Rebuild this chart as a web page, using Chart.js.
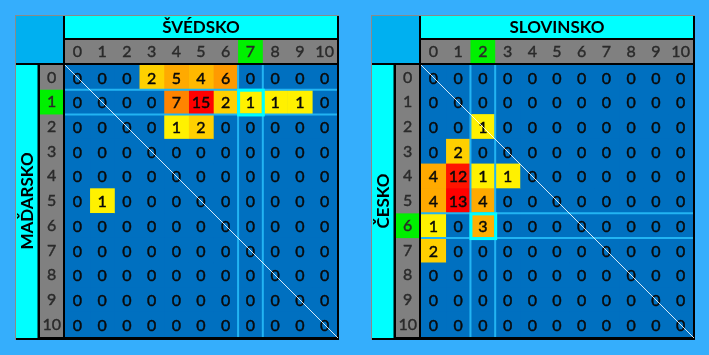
<!DOCTYPE html>
<html>
<head>
<meta charset="utf-8">
<script src="https://cdn.jsdelivr.net/npm/chart.js@4/dist/chart.umd.min.js"></script>
<style>
  html, body { margin: 0; padding: 0; background: #35AEFC; width: 709px; height: 355px; overflow: hidden; }
  .wrap { position: absolute; top: 0; }
  canvas { display: block; }
</style>
</head>
<body>
<div class="wrap" style="left:0px"><canvas id="c1" width="356" height="355"></canvas></div>
<div class="wrap" style="left:356px"><canvas id="c2" width="353" height="355"></canvas></div>
<script>
// ---------- DATA ----------
const goalLabels = ['0','1','2','3','4','5','6','7','8','9','10'];

// Left panel: rows = MAĎARSKO goals, columns = ŠVÉDSKO goals
const leftRowTitle = 'MAĎARSKO';
const leftColTitle = 'ŠVÉDSKO';
const leftCounts = [
  [0,0,0,2,5,4,6,0,0,0,0],
  [0,0,0,0,7,15,2,1,1,1,0],
  [0,0,0,0,1,2,0,0,0,0,0],
  [0,0,0,0,0,0,0,0,0,0,0],
  [0,0,0,0,0,0,0,0,0,0,0],
  [0,1,0,0,0,0,0,0,0,0,0],
  [0,0,0,0,0,0,0,0,0,0,0],
  [0,0,0,0,0,0,0,0,0,0,0],
  [0,0,0,0,0,0,0,0,0,0,0],
  [0,0,0,0,0,0,0,0,0,0,0],
  [0,0,0,0,0,0,0,0,0,0,0]
];
const leftActualRow = 1;
const leftActualCol = 7;

// Right panel: rows = ČESKO goals, columns = SLOVINSKO goals
const rightRowTitle = 'ČESKO';
const rightColTitle = 'SLOVINSKO';
const rightCounts = [
  [0,0,0,0,0,0,0,0,0,0,0],
  [0,0,0,0,0,0,0,0,0,0,0],
  [0,0,1,0,0,0,0,0,0,0,0],
  [0,2,0,0,0,0,0,0,0,0,0],
  [4,12,1,1,0,0,0,0,0,0,0],
  [4,13,4,0,0,0,0,0,0,0,0],
  [1,0,3,0,0,0,0,0,0,0,0],
  [2,0,0,0,0,0,0,0,0,0,0],
  [0,0,0,0,0,0,0,0,0,0,0],
  [0,0,0,0,0,0,0,0,0,0,0],
  [0,0,0,0,0,0,0,0,0,0,0]
];
const rightActualRow = 6;
const rightActualCol = 2;

// ---------- STYLE ----------
const leftHeat  = {1:'#FFF100', 2:'#FFD000', 4:'#FFB900', 5:'#FFAA00', 6:'#FF9A00', 7:'#FF8400', 15:'#FF0000'};
const rightHeat = {1:'#FFF100', 2:'#FFD000', 3:'#FFB000', 4:'#FFAA00', 12:'#FF1400', 13:'#FF0000'};
const GRID_BLUE = '#0070C0';

function makeChart(canvasId, counts, heat, rowTitle, colTitle, actualRow, actualCol) {
  const canvas = document.getElementById(canvasId);
  const W = canvas.width;

  const datasets = goalLabels.map((_, c) => ({
    data: goalLabels.map(() => 1),
    backgroundColor: goalLabels.map((_, r) => counts[r][c] > 0 ? heat[counts[r][c]] : GRID_BLUE),
    borderWidth: 0
  }));

  const tablePlugin = {
    id: 'table_' + canvasId,
    beforeDraw(chart) {
      const ctx = chart.ctx;
      const a = chart.chartArea;
      const xs = chart.scales.x, ys = chart.scales.y;
      const band = (a.bottom - a.top) / goalLabels.length;
      ctx.save();
      // frame
      ctx.fillStyle = '#000';
      ctx.fillRect(ys.left - 1, xs.top - 1, a.right + 2 - (ys.left - 1), a.bottom + 3 - (xs.top - 1));
      ctx.fillStyle = '#8a8a8a';
      ctx.fillRect(ys.left - 1, xs.top - 1, a.right + 2 - (ys.left - 1), 1);
      ctx.fillRect(ys.left - 1, xs.top - 1, 1, a.bottom + 3 - (xs.top - 1));
      // corner block
      ctx.fillStyle = '#00B0F0';
      ctx.fillRect(ys.left, xs.top, a.left - 2 - ys.left, a.top - 2 - xs.top);
      // title bars
      ctx.fillStyle = '#00FFFF';
      ctx.fillRect(a.left, xs.top, a.right - a.left, 22);
      ctx.fillRect(ys.left, a.top, 21.5, a.bottom + 1 - a.top);
      // header bands
      ctx.fillStyle = '#808080';
      ctx.fillRect(a.left, xs.top + 24, a.right - a.left, a.top - 2 - (xs.top + 24));
      ctx.fillRect(ys.left + 24, a.top, a.left - 2 - (ys.left + 24), a.bottom - a.top);
      // highlighted headers
      ctx.fillStyle = '#00F000';
      const hx0 = xs.getPixelForValue(actualCol), hx1 = xs.getPixelForValue(actualCol + 1);
      ctx.fillRect(hx0, xs.top + 24, hx1 - hx0, a.top - 2 - (xs.top + 24));
      const hyc = ys.getPixelForValue(actualRow);
      ctx.fillRect(ys.left + 24, hyc - band / 2, a.left - 2 - (ys.left + 24), band);
      // grid background
      ctx.fillStyle = GRID_BLUE;
      ctx.fillRect(a.left, a.top, a.right - a.left, a.bottom - a.top);
      ctx.restore();
    },
    afterDatasetsDraw(chart) {
      const ctx = chart.ctx;
      const a = chart.chartArea;
      const xs = chart.scales.x, ys = chart.scales.y;
      const band = (a.bottom - a.top) / goalLabels.length;
      ctx.save();
      // highlight lines
      ctx.strokeStyle = '#22B4F2';
      ctx.lineWidth = 2;
      const hx0 = xs.getPixelForValue(actualCol), hx1 = xs.getPixelForValue(actualCol + 1);
      const hyc = ys.getPixelForValue(actualRow);
      const hy0 = hyc - band / 2, hy1 = hyc + band / 2;
      ctx.beginPath();
      ctx.moveTo(hx0, a.top); ctx.lineTo(hx0, a.bottom);
      ctx.moveTo(hx1, a.top); ctx.lineTo(hx1, a.bottom);
      ctx.moveTo(a.left, hy0); ctx.lineTo(a.right, hy0);
      ctx.moveTo(a.left, hy1); ctx.lineTo(a.right, hy1);
      ctx.stroke();
      ctx.strokeStyle = '#00FFFF';
      ctx.lineWidth = 3;
      ctx.strokeRect(hx0 + 0.5, hy0 + 0.5, hx1 - hx0, hy1 - hy0);
      // numbers
      ctx.font = '16px Lato';
      ctx.fillStyle = '#0a0a0a';
      ctx.strokeStyle = '#0a0a0a';
      ctx.lineWidth = 0.45;
      ctx.textAlign = 'center';
      ctx.textBaseline = 'middle';
      chart.data.datasets.forEach((ds, c) => {
        const meta = chart.getDatasetMeta(c);
        meta.data.forEach((el, r) => {
          const p = el.getCenterPoint();
          ctx.fillText(String(counts[r][c]), p.x, p.y + 1);
          ctx.strokeText(String(counts[r][c]), p.x, p.y + 1);
        });
      });
      // diagonal
      ctx.strokeStyle = 'rgba(255,255,255,0.85)';
      ctx.lineWidth = 1;
      ctx.beginPath();
      ctx.moveTo(a.left, a.top);
      ctx.lineTo(a.right + 1, a.bottom + 1);
      ctx.stroke();
      ctx.restore();
    }
  };

  return new Chart(canvas, {
    type: 'bar',
    data: { labels: goalLabels, datasets },
    options: {
      indexAxis: 'y',
      responsive: false,
      animation: false,
      events: [],
      layout: { padding: { top: 16, left: 16, right: W - 337, bottom: 18 } },
      plugins: { legend: { display: false }, tooltip: { enabled: false } },
      datasets: { bar: { barPercentage: 1, categoryPercentage: 1 } },
      scales: {
        x: {
          type: 'linear', position: 'top', stacked: true, min: 0, max: goalLabels.length,
          grid: { display: false, drawTicks: false }, border: { display: false },
          afterBuildTicks: (s) => { s.ticks = goalLabels.map((_, i) => ({ value: i + 0.5 })); },
          ticks: { padding: 4, autoSkip: false, maxRotation: 0, color: '#2a2a2a',
                   textStrokeColor: '#2a2a2a', textStrokeWidth: 0.4,
                   font: { family: 'Lato', size: 16 },
                   callback: (v, i) => goalLabels[i] },
          title: { display: true, text: colTitle, color: '#000',
                   font: { family: 'Lato', size: 17, weight: 'bold' }, padding: { top: 1, bottom: 0 } },
          afterFit: (s) => { s.height = 49; s.paddingLeft = 0; s.paddingRight = 0; }
        },
        y: {
          type: 'category', position: 'left', stacked: true,
          grid: { display: false, drawTicks: false }, border: { display: false },
          ticks: { padding: 4, crossAlign: 'center', autoSkip: false, color: '#2a2a2a',
                   textStrokeColor: '#2a2a2a', textStrokeWidth: 0.4,
                   font: { family: 'Lato', size: 16 } },
          title: { display: true, text: rowTitle, color: '#000',
                   font: { family: 'Lato', size: 17, weight: 'bold' }, padding: { top: 1, bottom: 0 } },
          afterFit: (s) => { s.width = 49; s.paddingTop = 0; s.paddingBottom = 0; }
        }
      }
    },
    plugins: [tablePlugin]
  });
}

makeChart('c1', leftCounts, leftHeat, leftRowTitle, leftColTitle, leftActualRow, leftActualCol);
makeChart('c2', rightCounts, rightHeat, rightRowTitle, rightColTitle, rightActualRow, rightActualCol);
</script>
</body>
</html>
